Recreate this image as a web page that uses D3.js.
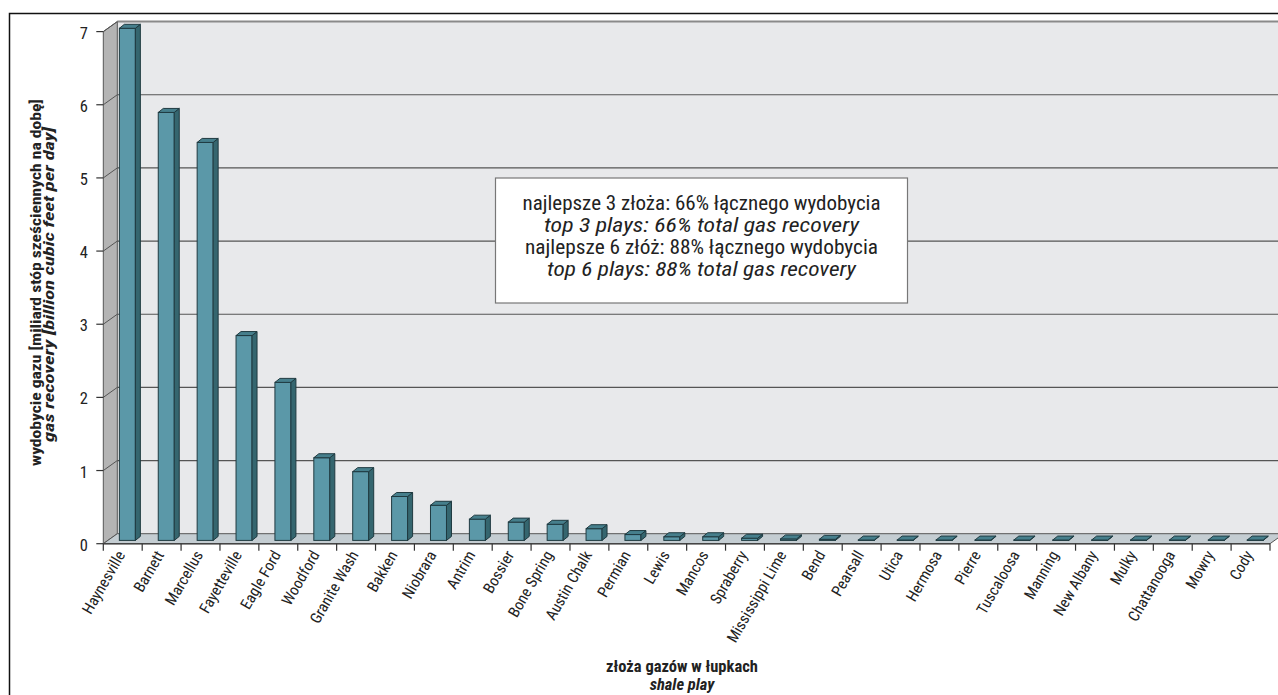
<!DOCTYPE html>
<html>
<head>
<meta charset="utf-8">
<script src="https://cdn.jsdelivr.net/npm/d3@7"></script>
<style>
  body { margin: 0; background: #fff; }
  svg text { font-family: "Liberation Sans Narrow", "Roboto Condensed", "DejaVu Sans Condensed", "Liberation Sans", sans-serif; font-stretch: condensed; }
</style>
</head>
<body>
<svg id="chart" width="1278" height="695"></svg>
<script>
// shale plays, ordered by recovery
const plays = ["Haynesville", "Barnett", "Marcellus", "Fayetteville", "Eagle Ford", "Woodford",
  "Granite Wash", "Bakken", "Niobrara", "Antrim", "Bossier", "Bone Spring", "Austin Chalk",
  "Permian", "Lewis", "Mancos", "Spraberry", "Mississippi Lime", "Bend", "Pearsall", "Utica",
  "Hermosa", "Pierre", "Tuscaloosa", "Manning", "New Albany", "Mulky", "Chattanooga", "Mowry", "Cody"];
// gas recovery, billion cubic feet per day
const recovery = [7.0, 5.85, 5.44, 2.8, 2.16, 1.13, 0.94, 0.6, 0.48, 0.29, 0.25, 0.22, 0.16,
  0.08, 0.05, 0.05, 0.03, 0.02, 0.015, 0.005, 0.005, 0.005, 0.005, 0.005, 0.005, 0.005, 0.005,
  0.005, 0.005, 0.005];
const yTicks = [0, 1, 2, 3, 4, 5, 6, 7];
const noteLines = [
  { text: "najlepsze 3 złoża: 66% łącznego wydobycia", italic: false, len: 358 },
  { text: "top 3 plays: 66% total gas recovery", italic: true, len: 315 },
  { text: "najlepsze 6 złóż: 88% łącznego wydobycia", italic: false, len: 353 },
  { text: "top 6 plays: 88% total gas recovery", italic: true, len: 309 }
];

const svg = d3.select("#chart");

// front plane of the 3d box, depth goes up and right
const DX = 14, DY = -10;
const x = d3.scaleBand().domain(plays).range([103.3, 1270]).padding(0);
const y = d3.scaleLinear().domain([0, 7]).range([543.7, 31.6]);
const x0 = 103.3, x1 = 1270;

// outer frame
svg.append("rect")
  .attr("x", 9.5).attr("y", 13.5)
  .attr("width", 1300).attr("height", 700)
  .attr("fill", "none").attr("stroke", "#111").attr("stroke-width", 1.5);

// back wall
svg.append("rect")
  .attr("x", x0 + DX).attr("y", y(7) + DY)
  .attr("width", 1300).attr("height", y(0) - y(7))
  .attr("fill", "#e8e9eb");
svg.append("line")
  .attr("x1", x0 + DX).attr("x2", 1300)
  .attr("y1", y(7) + DY).attr("y2", y(7) + DY)
  .attr("stroke", "#8a8a8a").attr("stroke-width", 2);

// left wall
svg.append("polygon")
  .attr("points", [[x0, y(7)], [x0 + DX, y(7) + DY], [x0 + DX, y(0) + DY], [x0, y(0)]].join(" "))
  .attr("fill", "#b4b4b4").attr("stroke", "#555").attr("stroke-width", 1);

// gridlines on back wall and left wall
const grid = svg.append("g");
yTicks.filter(d => d > 0).forEach(v => {
  if (v < 7) grid.append("line")
    .attr("x1", x0 + DX).attr("x2", 1300)
    .attr("y1", y(v) + DY).attr("y2", y(v) + DY)
    .attr("stroke", "#555").attr("stroke-width", 1.2);
  grid.append("line")
    .attr("x1", x0).attr("x2", x0 + DX)
    .attr("y1", y(v)).attr("y2", y(v) + DY)
    .attr("stroke", "#555").attr("stroke-width", 1);
});

// floor
svg.append("polygon")
  .attr("points", [[x0, y(0)], [x0 + DX, y(0) + DY], [x1 + DX, y(0) + DY], [x1, y(0)]].join(" "))
  .attr("fill", "#c4cdd2").attr("stroke", "#555").attr("stroke-width", 1);

// y axis ticks + labels
const yAxis = svg.append("g");
yTicks.forEach(v => {
  yAxis.append("line")
    .attr("x1", x0 - 7).attr("x2", x0)
    .attr("y1", y(v)).attr("y2", y(v))
    .attr("stroke", "#333").attr("stroke-width", 1.2);
  yAxis.append("text")
    .attr("x", 88).attr("y", y(v) + 7)
    .attr("text-anchor", "end")
    .attr("font-size", 16.5).attr("fill", "#222")
    .text(v);
});

// x axis line, ticks at band edges
svg.append("line")
  .attr("x1", x0).attr("x2", x1).attr("y1", y(0)).attr("y2", y(0))
  .attr("stroke", "#444").attr("stroke-width", 1.5);
const edges = plays.map(p => x(p)).concat([x1]);
svg.append("g").selectAll("line").data(edges).join("line")
  .attr("x1", d => d).attr("x2", d => d)
  .attr("y1", y(0)).attr("y2", y(0) + 7)
  .attr("stroke", "#333").attr("stroke-width", 1.2);

// 3d bars
const bw = 16, bdx = 5, bdy = -4;
const shift = 0.33; // how far into the depth the bars sit
const bars = svg.append("g").selectAll("g").data(plays.map((p, i) => ({ p, v: recovery[i] })))
  .join("g");
const bx = d => x(d.p) + (x.bandwidth() - bw) / 2 + shift * DX;
const base = y(0) + shift * DY;
const barTop = d => y(d.v) + shift * DY;
bars.append("rect")
  .attr("x", bx).attr("y", barTop)
  .attr("width", bw).attr("height", d => Math.max(0, base - barTop(d)))
  .attr("fill", "#5b98a8").attr("stroke", "#1f3a40").attr("stroke-width", 1);
bars.append("polygon")
  .attr("points", d => {
    const l = bx(d) + bw, t = barTop(d);
    return [[l, t], [l + bdx, t + bdy], [l + bdx, base + bdy], [l, base]].join(" ");
  })
  .attr("fill", "#35666f").attr("stroke", "#1f3a40").attr("stroke-width", 1);
bars.append("polygon")
  .attr("points", d => {
    const l = bx(d), t = barTop(d);
    return [[l, t], [l + bdx, t + bdy], [l + bw + bdx, t + bdy], [l + bw, t]].join(" ");
  })
  .attr("fill", "#467f8c").attr("stroke", "#1f3a40").attr("stroke-width", 1);

// rotated category labels
svg.append("g").selectAll("text").data(plays).join("text")
  .attr("transform", d => `translate(${x(d) + x.bandwidth() / 2 + 3},${y(0) + 11}) rotate(-60)`)
  .attr("text-anchor", "end")
  .attr("font-size", 15.5).attr("fill", "#222")
  .text(d => d);

// note box
const box = svg.append("g");
box.append("rect")
  .attr("x", 495.5).attr("y", 178).attr("width", 412).attr("height", 125)
  .attr("fill", "#fff").attr("stroke", "#777").attr("stroke-width", 1.2);
box.selectAll("text").data(noteLines).join("text")
  .attr("x", 701.5).attr("y", (d, i) => 209.5 + i * 22.2)
  .attr("text-anchor", "middle")
  .attr("font-size", 21).attr("fill", "#222")
  .attr("font-style", d => d.italic ? "italic" : "normal")
  .attr("textLength", d => d.len).attr("lengthAdjust", "spacingAndGlyphs")
  .text(d => d.text);

// axis titles
const yt = svg.append("g").attr("transform", "translate(0,282.5) rotate(-90)");
yt.append("text").attr("y", 40.7).attr("text-anchor", "middle")
  .attr("font-size", 15.5).attr("font-weight", "bold").attr("fill", "#222")
  .attr("textLength", 367).attr("lengthAdjust", "spacingAndGlyphs")
  .text("wydobycie gazu [miliard stóp sześciennych na dobę]");
yt.append("text").attr("y", 53.5).attr("x", -2).attr("text-anchor", "middle")
  .attr("font-size", 15.5).attr("font-weight", "bold").attr("font-style", "italic").attr("fill", "#222")
  .attr("textLength", 315).attr("lengthAdjust", "spacingAndGlyphs")
  .text("gas recovery [billion cubic feet per day]");

svg.append("text").attr("x", 682).attr("y", 671.5).attr("text-anchor", "middle")
  .attr("font-size", 16.5).attr("font-weight", "bold").attr("fill", "#222")
  .text("złoża gazów w łupkach");
svg.append("text").attr("x", 682).attr("y", 690).attr("text-anchor", "middle")
  .attr("font-size", 16.5).attr("font-weight", "bold").attr("font-style", "italic").attr("fill", "#222")
  .text("shale play");
</script>
</body>
</html>
